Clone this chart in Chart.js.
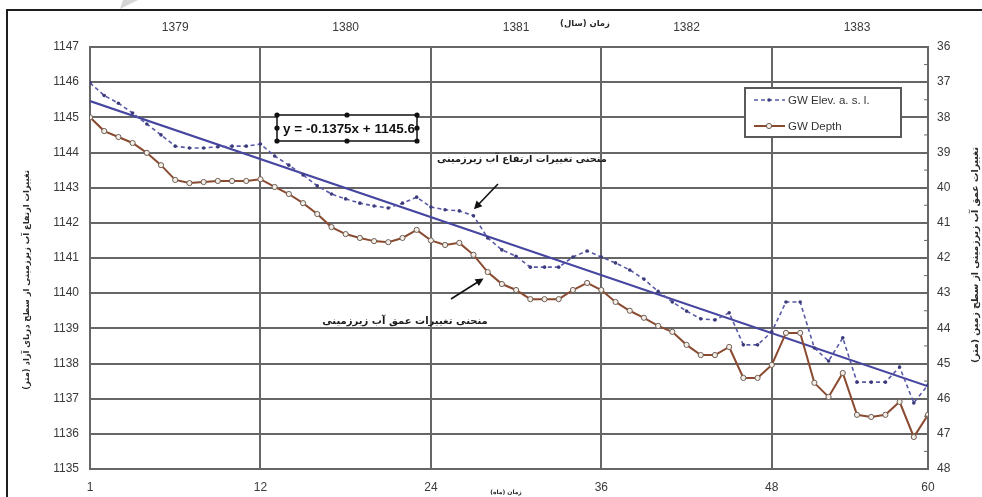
<!DOCTYPE html>
<html>
<head>
<meta charset="utf-8">
<script src="https://cdn.jsdelivr.net/npm/chart.js@4.4.1/dist/chart.umd.min.js"></script>
<style>
  html, body { margin: 0; padding: 0; background: #ffffff; }
  #wrap { position: relative; width: 982px; height: 497px; }
  canvas { display: block; }
</style>
</head>
<body>
<div id="wrap"><canvas id="chart" width="982" height="497"></canvas></div>
<script>
// Month index (1..60) of the five-year record
const months = Array.from({ length: 60 }, (_, i) => i + 1);

// Groundwater elevation above sea level (m), left axis
const elevation = [
  1145.98, 1145.62, 1145.40, 1145.12, 1144.81, 1144.50, 1144.18, 1144.13, 1144.13, 1144.16,
  1144.18, 1144.18, 1144.24, 1143.90, 1143.64, 1143.36, 1143.05, 1142.82, 1142.68, 1142.56,
  1142.48, 1142.42, 1142.56, 1142.73, 1142.45, 1142.37, 1142.34, 1142.20, 1141.57, 1141.23,
  1141.05, 1140.74, 1140.74, 1140.74, 1141.03, 1141.20, 1141.03, 1140.86, 1140.66, 1140.40,
  1140.05, 1139.75, 1139.49, 1139.27, 1139.24, 1139.44, 1138.53, 1138.53, 1138.90, 1139.75,
  1139.75, 1138.44, 1138.07, 1138.73, 1137.47, 1137.47, 1137.47, 1137.90, 1136.88, 1137.39
];

// Groundwater depth below ground (m), right axis (reversed)
const depth = [
  38.00, 38.39, 38.56, 38.73, 39.01, 39.36, 39.78, 39.87, 39.84, 39.81,
  39.81, 39.81, 39.76, 39.98, 40.18, 40.44, 40.75, 41.12, 41.32, 41.43,
  41.52, 41.55, 41.43, 41.20, 41.50, 41.63, 41.57, 41.91, 42.40, 42.74,
  42.91, 43.17, 43.17, 43.17, 42.91, 42.71, 42.91, 43.25, 43.50, 43.70,
  43.93, 44.10, 44.47, 44.76, 44.76, 44.53, 45.41, 45.41, 45.04, 44.13,
  44.13, 45.55, 45.95, 45.27, 46.46, 46.52, 46.46, 46.09, 47.09, 46.46
];

// Linear trend of the elevation series: y = -0.1375x + 1145.6
const trendSlope = -0.1375;
const trendIntercept = 1145.6;

// Axis ticks
const monthTickValues = [1, 13, 25, 37, 49, 60];
const monthTickLabels = ['1', '12', '24', '36', '48', '60'];
const yearTickValues = [7, 19, 31, 43, 55];
const yearLabels = ['1379', '1380', '1381', '1382', '1383'];

const seriesNames = ['GW Elev. a. s. l.', 'GW Depth'];

const GRID = '#666666';
const TICK_TEXT = '#3a3a3a';
const ELEV_COLOR = '#5858a6';
const DEPTH_COLOR = '#8a4a30';
const TREND_COLOR = '#4646a0';
const FA_FONT = '"DejaVu Sans", "Noto Sans", sans-serif';
const LAT_FONT = '"Liberation Sans", Arial, sans-serif';
const TICK_FONT = { family: LAT_FONT, size: 12 };

const xy = (xs, ys) => xs.map((x, i) => ({ x, y: ys[i] }));
const first = months[0], last = months[months.length - 1];
const trendPoints = [
  { x: first, y: trendIntercept + trendSlope * first },
  { x: last, y: trendIntercept + trendSlope * last }
];

// Draw text scaled so it spans a given width
function fitText(ctx, text, cx, cy, width, weight, family, rotate, rtl) {
  ctx.save();
  ctx.translate(cx, cy);
  if (rotate) ctx.rotate(rotate);
  ctx.direction = rtl ? 'rtl' : 'ltr';
  let size = 12;
  ctx.font = `${weight} ${size}px ${family}`;
  const w = ctx.measureText(text).width;
  size = Math.max(6, Math.min(16, size * width / w));
  ctx.font = `${weight} ${size}px ${family}`;
  ctx.textAlign = 'center';
  ctx.textBaseline = 'middle';
  ctx.fillText(text, 0, 0);
  ctx.restore();
}

function arrow(ctx, x1, y1, x2, y2) {
  ctx.save();
  ctx.strokeStyle = '#111';
  ctx.fillStyle = '#111';
  ctx.lineWidth = 1.6;
  ctx.beginPath();
  ctx.moveTo(x1, y1);
  ctx.lineTo(x2, y2);
  ctx.stroke();
  const a = Math.atan2(y2 - y1, x2 - x1);
  ctx.translate(x2, y2);
  ctx.rotate(a);
  ctx.beginPath();
  ctx.moveTo(3, 0);
  ctx.lineTo(-5, -4);
  ctx.lineTo(-5, 4);
  ctx.closePath();
  ctx.fill();
  ctx.restore();
}

const decorations = {
  id: 'decorations',
  afterDraw(chart) {
    const ctx = chart.ctx;
    const area = chart.chartArea;
    const y2 = chart.scales.y2;
    ctx.save();

    // Page frame
    ctx.strokeStyle = '#1e1e1e';
    ctx.lineWidth = 2;
    ctx.beginPath();
    ctx.moveTo(7, 497);
    ctx.lineTo(7, 10);
    ctx.lineTo(982, 10);
    ctx.stroke();
    ctx.fillStyle = '#d6d6d6';
    ctx.beginPath();
    ctx.moveTo(123, 0);
    ctx.lineTo(138, 0);
    ctx.lineTo(120, 9);
    ctx.closePath();
    ctx.fill();

    // Minor ticks on the depth axis
    ctx.strokeStyle = GRID;
    ctx.lineWidth = 1;
    for (let v = y2.min + 0.5; v < y2.max; v += 1) {
      const py = y2.getPixelForValue(v);
      ctx.beginPath();
      ctx.moveTo(area.right - 4, py);
      ctx.lineTo(area.right, py);
      ctx.stroke();
    }

    // Axis titles
    ctx.fillStyle = '#2a2a2a';
    fitText(ctx, 'تغییرات ارتفاع آب زیرزمینی از سطح دریای آزاد (متر)', 27, 280, 220, 'bold', FA_FONT, -Math.PI / 2, true);
    fitText(ctx, 'تغییرات عمق آب زیرزمینی از سطح زمین (متر)', 976, 255, 216, 'bold', FA_FONT, -Math.PI / 2, true);
    fitText(ctx, 'زمان (سال)', 585, 24, 50, 'bold', FA_FONT, 0, true);
    fitText(ctx, 'زمان (ماه)', 506, 492, 30, 'bold', FA_FONT, 0, true);

    // Trend equation box
    const bx = 277, by = 115, bw = 140, bh = 26;
    ctx.fillStyle = '#ffffff';
    ctx.fillRect(bx, by, bw, bh);
    ctx.strokeStyle = '#111';
    ctx.lineWidth = 1.5;
    ctx.strokeRect(bx, by, bw, bh);
    ctx.fillStyle = '#111';
    const sign = trendIntercept >= 0 ? '+' : '-';
    fitText(ctx, `y = ${trendSlope}x ${sign} ${Math.abs(trendIntercept)}`, bx + bw / 2 + 2, by + bh / 2 + 1, 132, 'bold', LAT_FONT, 0, false);
    [[0, 0], [0.5, 0], [1, 0], [0, 0.5], [1, 0.5], [0, 1], [0.5, 1], [1, 1]].forEach(([fx, fy]) => {
      ctx.beginPath();
      ctx.arc(bx + fx * bw, by + fy * bh, 2.6, 0, Math.PI * 2);
      ctx.fill();
    });

    // Curve labels with pointers
    ctx.fillStyle = '#1a1a1a';
    fitText(ctx, 'منحنی تغییرات ارتفاع آب زیرزمینی', 522, 159, 170, 'bold', FA_FONT, 0, true);
    arrow(ctx, 498, 184, 476, 207);
    fitText(ctx, 'منحنی تغییرات عمق آب زیرزمینی', 405, 321, 166, 'bold', FA_FONT, 0, true);
    arrow(ctx, 451, 299, 481, 280);

    // Legend
    const lx = 745, ly = 88, lw = 156, lh = 49;
    ctx.fillStyle = '#ffffff';
    ctx.fillRect(lx, ly, lw, lh);
    ctx.strokeStyle = '#5a5a5a';
    ctx.lineWidth = 2;
    ctx.strokeRect(lx, ly, lw, lh);
    const rows = [ly + 12, ly + 38];
    chart.data.datasets.slice(0, 2).forEach((ds, i) => {
      const ry = rows[i];
      ctx.save();
      ctx.strokeStyle = ds.borderColor;
      ctx.lineWidth = ds.borderWidth;
      ctx.setLineDash(ds.borderDash || []);
      ctx.beginPath();
      ctx.moveTo(lx + 9, ry);
      ctx.lineTo(lx + 40, ry);
      ctx.stroke();
      ctx.setLineDash([]);
      ctx.fillStyle = ds.pointBackgroundColor;
      ctx.strokeStyle = ds.pointBorderColor;
      ctx.lineWidth = ds.pointBorderWidth;
      ctx.beginPath();
      ctx.arc(lx + 24, ry, ds.pointRadius, 0, Math.PI * 2);
      ctx.fill();
      if (ds.pointBorderWidth) ctx.stroke();
      ctx.restore();
      ctx.fillStyle = '#333';
      ctx.font = `11.5px ${LAT_FONT}`;
      ctx.textAlign = 'left';
      ctx.textBaseline = 'middle';
      ctx.fillText(ds.label, lx + 43, ry + 1);
    });

    ctx.restore();
  }
};

new Chart(document.getElementById('chart'), {
  type: 'line',
  data: {
    datasets: [
      {
        label: seriesNames[0],
        data: xy(months, elevation),
        yAxisID: 'y',
        xAxisID: 'x',
        borderColor: ELEV_COLOR,
        borderWidth: 1.6,
        borderDash: [4, 3],
        pointRadius: 1.8,
        pointBackgroundColor: '#3c3c7c',
        pointBorderColor: '#3c3c7c',
        pointBorderWidth: 0,
        tension: 0
      },
      {
        label: seriesNames[1],
        data: xy(months, depth),
        yAxisID: 'y2',
        xAxisID: 'x',
        borderColor: DEPTH_COLOR,
        borderWidth: 2,
        pointRadius: 2.6,
        pointBackgroundColor: '#f4efe9',
        pointBorderColor: '#6e5d52',
        pointBorderWidth: 1,
        tension: 0
      },
      {
        label: 'trend',
        data: trendPoints,
        yAxisID: 'y',
        xAxisID: 'x',
        borderColor: TREND_COLOR,
        borderWidth: 2,
        pointRadius: 0
      }
    ]
  },
  options: {
    responsive: false,
    devicePixelRatio: 1,
    animation: false,
    layout: { padding: 0 },
    plugins: { legend: { display: false }, tooltip: { enabled: false } },
    scales: {
      x: {
        type: 'linear',
        position: 'bottom',
        min: first,
        max: last,
        afterBuildTicks: (s) => { s.ticks = monthTickValues.map(v => ({ value: v })); },
        afterFit: (s) => { s.height = 28; },
        grid: { color: GRID, lineWidth: 2, drawTicks: false },
        border: { color: GRID, width: 2 },
        ticks: {
          autoSkip: false, maxRotation: 0, padding: 11, color: TICK_TEXT,
          font: TICK_FONT,
          callback: (v, i) => monthTickLabels[i]
        }
      },
      xTop: {
        type: 'linear',
        position: 'top',
        min: first,
        max: last,
        afterBuildTicks: (s) => { s.ticks = yearTickValues.map(v => ({ value: v })); },
        afterFit: (s) => { s.height = 47; },
        grid: { display: false, drawTicks: false },
        border: { display: false },
        ticks: {
          autoSkip: false, maxRotation: 0, padding: 12, color: TICK_TEXT,
          font: TICK_FONT,
          callback: (v, i) => yearLabels[i]
        }
      },
      y: {
        position: 'left',
        min: 1135,
        max: 1147,
        afterFit: (s) => { s.width = 90; },
        grid: { color: GRID, lineWidth: 2, drawTicks: false },
        border: { color: GRID, width: 2 },
        ticks: { stepSize: 1, padding: 11, color: TICK_TEXT, font: TICK_FONT, callback: (v) => String(v) }
      },
      y2: {
        position: 'right',
        reverse: true,
        min: 36,
        max: 48,
        afterFit: (s) => { s.width = 54; },
        grid: { drawOnChartArea: false, drawTicks: false },
        border: { color: GRID, width: 2 },
        ticks: { stepSize: 1, padding: 9, color: TICK_TEXT, font: TICK_FONT, callback: (v) => String(v) }
      }
    }
  },
  plugins: [decorations]
});
</script>
</body>
</html>
